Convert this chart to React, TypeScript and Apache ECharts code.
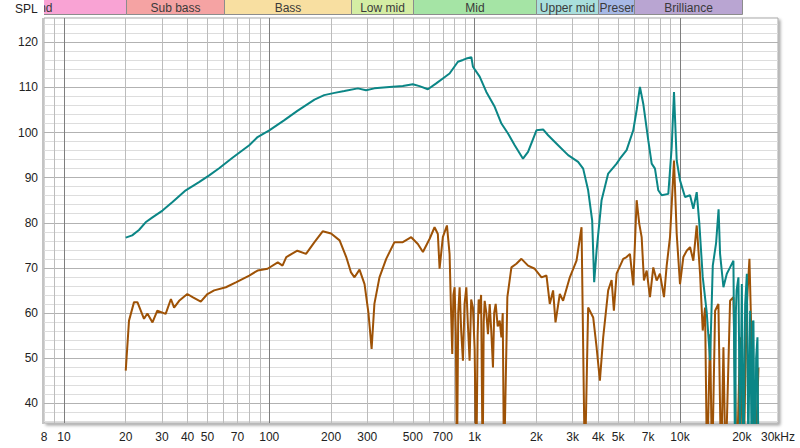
import React, { useEffect, useRef } from "react";
import * as echarts from "echarts";

// ---------- data ----------
const tealFreq = [
  20.0, 21.5, 23.2, 25.0, 27.0, 30.2, 33.8, 39.2, 45.5, 51.0, 57.0, 66.2, 79.9, 87.7, 100, 118, 137, 166, 185, 208,
  232, 270, 296, 325, 385, 447, 500, 539, 592, 650, 700, 755, 829, 877, 911, 964, 981, 1058, 1140, 1252,
  1350, 1454, 1567, 1720, 1820, 2000, 2154, 2279, 2549, 2852, 3190, 3376, 3570, 3735, 3820, 3924, 4150, 4469, 4912, 5098,
  5495, 5920, 6150, 6380, 6622, 7004, 7278, 7551, 7838, 8142, 8770, 9111, 9348, 9636, 10000, 10578, 11190, 11610, 12060, 12420,
  12900, 13500, 14010, 14440, 14985, 15410, 15670, 16270, 16900, 17530, 18200, 18550, 18700, 18860, 19250, 19600, 20000, 20360, 20760, 21160,
  21500, 21950, 22380, 22600, 22780, 23000, 23220, 23480, 23830, 24100,
];
const tealSpl = [
  76.7, 77.2, 78.4, 80.1, 81.2, 82.7, 84.6, 87.2, 89.0, 90.5, 92.1, 94.4, 97.2, 99.0, 100.5, 102.7, 104.8, 107.3, 108.3, 108.8,
  109.2, 109.8, 109.4, 109.8, 110.1, 110.3, 110.7, 110.3, 109.6, 110.9, 112.0, 113.1, 115.7, 116.1, 116.4, 116.7, 114.6, 112.4, 109.0, 105.7,
  102.0, 99.8, 97.2, 94.2, 95.7, 100.5, 100.7, 99.4, 97.2, 95.0, 93.5, 92.0, 87.2, 80.5, 66.8, 73.8, 85.0, 90.9, 93.1, 94.2,
  96.1, 100.5, 105.0, 110.1, 106.4, 98.3, 93.1, 92.0, 87.2, 86.1, 86.4, 96.8, 109.0, 93.8, 89.4, 85.7, 86.1, 83.1, 86.8, 79.8,
  68.0, 60.0, 49.5, 70.5, 75.5, 83.0, 73.1, 65.7, 68.7, 70.1, 71.6, 25, 60, 65, 67.9, 30, 66.4, 25, 62, 68.7,
  30, 60.5, 25, 58, 58.3, 35, 25, 50, 54.6, 25,
];

const brownFreq = [
  20.0, 20.75, 21.95, 22.8, 24.55, 25.5, 27.0, 28.5, 31.3, 33.2, 34.4, 36.4, 39.9, 42.3, 46.4, 50.0, 53.9, 61.5, 68.8, 79.9,
  87.7, 98.1, 110, 116, 121, 137, 151, 166, 182, 200, 220, 237, 250, 260, 275, 291, 304, 315, 325, 344,
  371, 407, 447, 491, 529, 560, 603, 638, 662, 675, 700, 733, 755, 766, 778, 788, 799, 810, 820, 832,
  845, 860, 877, 893, 911, 928, 945, 962, 981, 1000, 1019, 1034, 1046, 1058, 1075, 1094, 1107, 1119, 1140, 1161,
  1184, 1205, 1228, 1245, 1266, 1295, 1324, 1350, 1370, 1390, 1443, 1510, 1597, 1690, 1820, 1962, 2116, 2238, 2322, 2410,
  2476, 2598, 2696, 2907, 3134, 3315, 3441, 3570, 3778, 3924, 4072, 4226, 4469, 4644, 4764, 4912, 5290, 5495, 5703, 5920,
  6150, 6331, 6505, 6674, 6881, 7141, 7410, 7697, 7988, 8356, 8612, 8938, 9348, 9636, 10000, 10380, 10780, 11190, 11610, 12060,
  12520, 12900, 13240, 13540, 14010, 14330, 14820, 15380, 15850, 16270, 16670, 17530, 18200, 18900, 19620, 20360, 21160, 21780, 22380, 23220,
  24100,
];
const brownSpl = [
  47.2, 58.3, 62.4, 62.4, 58.7, 59.9, 57.9, 60.5, 59.8, 63.1, 61.2, 62.7, 64.2, 63.5, 62.5, 64.2, 65.0, 65.7, 66.8, 68.3,
  69.4, 69.8, 71.2, 70.5, 72.4, 73.8, 73.1, 75.7, 78.1, 77.6, 76.1, 72.4, 69.0, 67.9, 69.6, 66.4, 60.0, 52.0, 62.0, 67.9,
  72.0, 75.7, 75.7, 76.8, 75.3, 73.5, 76.4, 79.0, 77.5, 69.8, 76.8, 79.4, 73.1, 62, 50.9, 64, 65.7, 55, 25, 60,
  65.7, 56, 49.4, 62, 65.7, 57, 49.4, 63, 61.2, 52, 25, 55, 63, 59.8, 64, 25, 58, 62.7, 60, 55.3,
  62, 56, 47.9, 60, 62, 57, 58.3, 54.6, 60, 25, 63.5, 70.1, 70.9, 72.0, 70.5, 69.8, 67.9, 68.3, 62, 65.0,
  57.9, 64.2, 62.7, 67.9, 71.6, 79.0, 25, 61.2, 59.0, 52.4, 45.0, 54.6, 65.0, 67.3, 60.5, 68.7, 72.0, 72.4, 73.1, 66.1,
  85.0, 79.8, 76.8, 67.2, 69.4, 63.5, 70.1, 67.2, 68.7, 63.5, 70.5, 76.8, 93.8, 77.5, 66.4, 72.4, 73.8, 74.6, 71.6, 79.4,
  68.7, 56.1, 61.2, 25, 55.3, 25, 60.5, 62.0, 25, 52.4, 25, 62.7, 63.5, 25, 54.6, 25, 62.0, 72.0, 50.9, 25,
  47.9,
];

const xTickValues = [8, 10, 20, 30, 40, 50, 70, 100, 200, 300, 500, 700, 1000, 2000, 3000, 4000, 5000, 7000, 10000, 20000, 30000];
const yTickValues = [40, 50, 60, 70, 80, 90, 100, 110, 120];
const vGridMinor = [9, 20, 30, 40, 50, 60, 70, 80, 90, 200, 300, 400, 500, 600, 700, 800, 900, 2000, 3000, 4000, 5000, 6000, 7000, 8000, 9000, 20000];
const vGridMajor = [10, 100, 1000, 10000];
const hGridLevels = [36, 38, 40, 42, 44, 46, 48, 50, 52, 54, 56, 58, 60, 62, 64, 66, 68, 70, 72, 74, 76, 78, 80, 82, 84, 86, 88, 90, 92, 94, 96, 98, 100, 102, 104, 106, 108, 110, 112, 114, 116, 118, 120, 122, 124];

// first band only shows the tail of its label at the left edge of the chart
const bandNames = ["nd", "Sub bass", "Bass", "Low mid", "Mid", "Upper mid", "Presence", "Brilliance"];
const bandStart = [2, 20, 60, 250, 500, 2000, 4000, 6000];
const bandEnd = [20, 60, 250, 500, 2000, 4000, 6000, 20000];
const bandColors = ["#f9a3d4", "#f5a3a3", "#f8dfa1", "#d4eda4", "#a5e4a5", "#a9dfdc", "#a7b9e6", "#b9a5d2"];

const FONT = '"Liberation Sans", Arial, sans-serif';
const GRID_LEFT = 44;

let measureCtx: CanvasRenderingContext2D | null = null;
function textWidth(t: string): number {
  if (!measureCtx) {
    const c = document.createElement("canvas");
    measureCtx = c.getContext("2d");
  }
  if (!measureCtx) return t.length * 6.5;
  measureCtx.font = `12px ${FONT}`;
  return measureCtx.measureText(t).width;
}

function fmtFreq(v: number): string {
  const r = Math.round(v);
  if (r === 30000) return "30kHz";
  if (r >= 1000) return r / 1000 + "k";
  return String(r);
}

export default function App() {
  const ref = useRef<HTMLDivElement>(null);
  useEffect(() => {
    if (!ref.current) return;
    const chart = echarts.init(ref.current, null, { renderer: "svg" });

    const gridLines: any[] = [];
    hGridLevels.forEach((v) => {
      gridLines.push({ yAxis: v, lineStyle: { color: v % 10 === 0 ? "#b2b2b2" : "#dddddd", width: 1, type: "solid" } });
    });
    vGridMinor.forEach((v) => {
      gridLines.push({ xAxis: v, lineStyle: { color: "#bcbcbc", width: 1, type: "solid" } });
    });
    vGridMajor.forEach((v) => {
      gridLines.push({ xAxis: v, lineStyle: { color: "#7e7e7e", width: 1, type: "solid" } });
    });

    const option: any = {
      animation: false,
      textStyle: { fontFamily: FONT },
      grid: [
        {
          left: GRID_LEFT,
          right: 22,
          top: 18,
          bottom: 25,
          show: true,
          backgroundColor: "#ffffff",
          borderColor: "#a8a8a8",
          borderWidth: 1,
          shadowColor: "rgba(0,0,0,0.35)",
          shadowBlur: 3,
          shadowOffsetX: 2,
          shadowOffsetY: 2,
        },
        { left: GRID_LEFT, right: 22, top: 0, height: 15, show: false },
      ],
      xAxis: [
        {
          type: "log",
          logBase: 10,
          min: 8,
          max: 30000,
          gridIndex: 0,
          axisLine: { show: false },
          axisTick: { show: false },
          splitLine: { show: false },
          minorSplitLine: { show: false },
          axisLabel: {
            customValues: xTickValues,
            formatter: (v: number) => fmtFreq(v),
            color: "#222",
            fontSize: 12,
            fontFamily: FONT,
            margin: 8,
            showMinLabel: true,
            showMaxLabel: true,
            hideOverlap: false,
          },
        },
        { type: "log", logBase: 10, min: 8, max: 30000, gridIndex: 1, show: false },
      ],
      yAxis: [
        {
          type: "value",
          min: 35.6,
          max: 125.4,
          gridIndex: 0,
          axisLine: { show: false },
          axisTick: { show: false },
          splitLine: { show: false },
          axisLabel: {
            customValues: yTickValues,
            color: "#222",
            fontSize: 12,
            fontFamily: FONT,
            margin: 6,
          },
        },
        { type: "value", min: 0, max: 1, gridIndex: 1, show: false },
      ],
      graphic: [
        {
          type: "text",
          left: 15,
          top: 3,
          style: { text: "SPL", fill: "#222", font: `12px ${FONT}` },
        },
        {
          type: "rect",
          shape: { x: 42, y: 18, width: 2, height: 406 },
          style: { fill: "#c4c4c4" },
          z: 10,
        },
      ],
      series: [
        {
          type: "line",
          xAxisIndex: 0,
          yAxisIndex: 0,
          data: [],
          silent: true,
          z: 1,
          markLine: {
            silent: true,
            symbol: ["none", "none"],
            label: { show: false },
            emphasis: { disabled: true },
            animation: false,
            z: 1,
            data: gridLines,
          },
        },
        {
          type: "custom",
          xAxisIndex: 1,
          yAxisIndex: 1,
          clip: true,
          silent: true,
          data: bandStart.map((s, i) => [s, bandEnd[i]]),
          renderItem: (params: any, api: any) => {
            const i = params.dataIndex;
            const p0 = api.coord([api.value(0), 0]);
            const p1 = api.coord([api.value(1), 1]);
            const x0 = Math.round(p0[0]) + 0.5;
            const x1 = Math.round(p1[0]) + 0.5;
            const yTop = p1[1];
            const yBot = p0[1];
            const w = x1 - x0;
            const name = bandNames[i];
            const tw = textWidth(name);
            let tx: number;
            let align: string;
            if (x0 < GRID_LEFT) {
              tx = GRID_LEFT + 8.5;
              align = "right";
            } else if (tw <= w - 2) {
              tx = (x0 + x1) / 2;
              align = "center";
            } else {
              tx = x0 + 1;
              align = "left";
            }
            const clipX = Math.max(x0, GRID_LEFT);
            return {
              type: "group",
              children: [
                {
                  type: "rect",
                  shape: { x: x0, y: yTop - 1, width: w, height: yBot - yTop + 0.5 },
                  style: { fill: bandColors[i], stroke: "#8c8c8c", lineWidth: 1 },
                },
                {
                  type: "text",
                  clipPath: { type: "rect", shape: { x: clipX, y: yTop, width: x1 - clipX, height: yBot - yTop } },
                  style: {
                    text: name,
                    x: tx,
                    y: (yTop + yBot) / 2 + 0.5,
                    align,
                    verticalAlign: "middle",
                    fill: "#3a3a3a",
                    font: `12px ${FONT}`,
                  },
                },
              ],
            };
          },
        },
        {
          type: "line",
          name: "brown",
          xAxisIndex: 0,
          yAxisIndex: 0,
          data: brownFreq.map((f, i) => [f, brownSpl[i]]),
          showSymbol: false,
          symbol: "none",
          clip: true,
          z: 3,
          lineStyle: { color: "#9e5206", width: 2 },
        },
        {
          type: "line",
          name: "teal",
          xAxisIndex: 0,
          yAxisIndex: 0,
          data: tealFreq.map((f, i) => [f, tealSpl[i]]),
          showSymbol: false,
          symbol: "none",
          clip: true,
          z: 4,
          lineStyle: { color: "#0b8686", width: 2 },
        },
      ],
    };
    chart.setOption(option);
    return () => chart.dispose();
  }, []);
  return <div ref={ref} style={{ position: "absolute", left: 0, top: 0, width: 800, height: 448 }} />;
}
